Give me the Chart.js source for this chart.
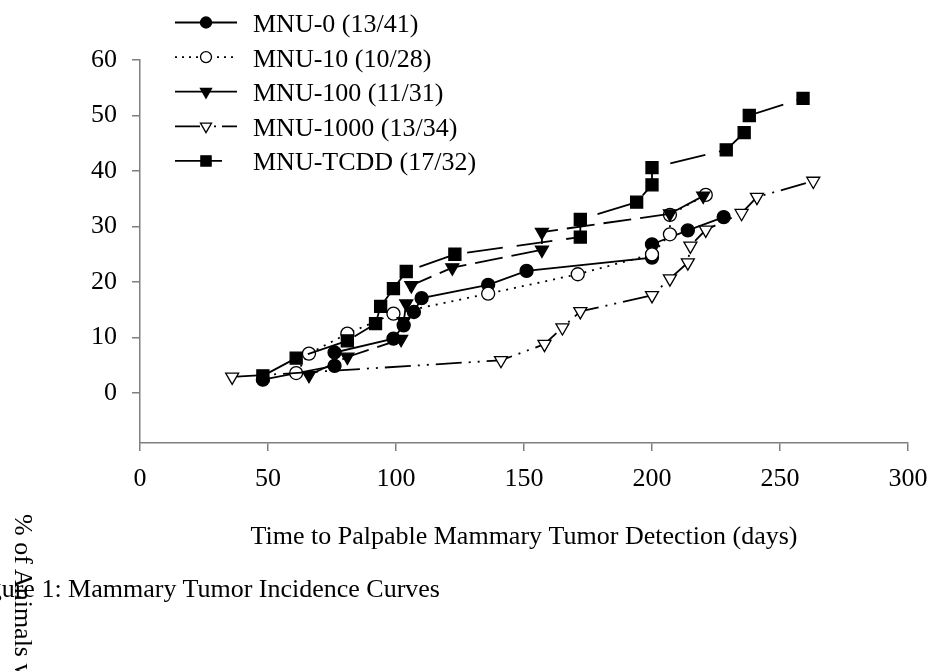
<!DOCTYPE html>
<html>
<head>
<meta charset="utf-8">
<script src="https://cdn.jsdelivr.net/npm/chart.js@4.4.1/dist/chart.umd.min.js"></script>
<style>
  html, body { margin: 0; padding: 0; background: #fff; overflow: hidden; }
  #wrap { position: relative; width: 928px; height: 671px; overflow: hidden; }
  #wrap canvas { position: absolute; left: 0; top: 0; }
  .txt {
    position: absolute;
    font-family: "Liberation Serif", "Times New Roman", serif;
    font-size: 26px;
    line-height: 26px;
    white-space: nowrap;
    color: #000;
  }
  #caption { left: -33px; top: 576px; }
  #ytitle { left: 36px; top: 514px; transform-origin: 0 0; transform: rotate(90deg); }
</style>
</head>
<body>
<div id="wrap">
  <canvas id="tumorChart" width="928" height="671"></canvas>
  <div class="txt" id="ytitle">% of Animals with Tumors</div>
  <div class="txt" id="caption">Figure 1: Mammary Tumor Incidence Curves</div>
</div>
<script>
// series labels
const seriesNames = ["MNU-0 (13/41)", "MNU-10 (10/28)", "MNU-100 (11/31)", "MNU-1000 (13/34)", "MNU-TCDD (17/32)"]

// days to detection and cumulative % per group
const days0 = [48, 76, 76, 99, 103, 107, 110, 136, 151, 200, 200, 214, 228]
const pct0 = [2.4, 4.9, 7.3, 9.8, 12.2, 14.6, 17.1, 19.5, 22.0, 24.4, 26.8, 29.3, 31.7]

const days10 = [61, 66, 81, 99, 136, 171, 200, 207, 207, 221]
const pct10 = [3.6, 7.1, 10.7, 14.3, 17.9, 21.4, 25.0, 28.6, 32.1, 35.7]

const days100 = [66, 81, 102, 103, 104, 106, 122, 157, 157, 207, 220]
const pct100 = [3.2, 6.5, 9.7, 12.9, 16.1, 19.4, 22.6, 25.8, 29.0, 32.3, 35.5]

const days1000 = [36, 141, 158, 165, 172, 200, 207, 214, 215, 221, 235, 241, 263]
const pct1000 = [2.9, 5.9, 8.8, 11.8, 14.7, 17.6, 20.6, 23.5, 26.5, 29.4, 32.4, 35.3, 38.2]

const daysTcdd = [48, 61, 81, 92, 94, 99, 104, 123, 172, 172, 194, 200, 200, 229, 236, 238, 259]
const pctTcdd = [3.1, 6.3, 9.4, 12.5, 15.6, 18.8, 21.9, 25.0, 28.1, 31.3, 34.4, 37.5, 40.6, 43.8, 46.9, 50.0, 53.1]

const xTicks = [0, 50, 100, 150, 200, 250, 300]
const yTicks = [0, 10, 20, 30, 40, 50, 60]

const allDays = [days0, days10, days100, days1000, daysTcdd]
const allPct = [pct0, pct10, pct100, pct1000, pctTcdd]

// marker and line look per group
const looks = [
  { pointStyle: "circle", fill: "#000", radius: 6.5, rotation: 0, dash: [], legendDash: [] },
  { pointStyle: "circle", fill: "#fff", radius: 6.5, rotation: 0, dash: [2, 6], legendDash: [2, 5] },
  { pointStyle: "triangle", fill: "#000", radius: 7.5, rotation: 180, dash: [28, 9], legendDash: [] },
  { pointStyle: "triangle", fill: "#fff", radius: 7.5, rotation: 180, dash: [26, 7, 2, 7, 2, 7], legendDash: [25, 6, 2, 6, 2, 6] },
  { pointStyle: "rect", fill: "#000", radius: 8.5, rotation: 0, dash: [36, 14], legendDash: [47, 100] }
]

const serif = "Liberation Serif"

const datasets = seriesNames.map((name, i) => ({
  label: name,
  data: allDays[i].map((d, j) => ({ x: d, y: allPct[i][j] })),
  borderColor: "#000",
  borderWidth: 1.8,
  borderDash: looks[i].dash,
  tension: 0,
  fill: false,
  pointStyle: looks[i].pointStyle,
  pointRadius: looks[i].radius,
  pointRotation: looks[i].rotation,
  pointBackgroundColor: looks[i].fill,
  pointBorderColor: "#000",
  pointBorderWidth: 1.3,
  order: seriesNames.length - 1 - i
}))

const sideLegend = {
  id: "sideLegend",
  afterDraw(chart) {
    const ctx = chart.ctx
    seriesNames.forEach((name, i) => {
      const y = 22.5 + i * 34.6
      ctx.save()
      ctx.strokeStyle = "#000"
      ctx.lineWidth = 1.8
      ctx.setLineDash(looks[i].legendDash)
      ctx.beginPath()
      ctx.moveTo(175, y)
      ctx.lineTo(237, y)
      ctx.stroke()
      ctx.setLineDash([])
      ctx.fillStyle = looks[i].fill
      ctx.strokeStyle = "#000"
      ctx.lineWidth = 1.3
      Chart.helpers.drawPoint(ctx, {
        pointStyle: looks[i].pointStyle,
        radius: looks[i].radius * 0.85,
        rotation: looks[i].rotation,
        borderWidth: 1.3
      }, 206, y)
      ctx.fillStyle = "#000"
      ctx.font = "26px \"" + serif + "\""
      ctx.textAlign = "left"
      ctx.textBaseline = "alphabetic"
      ctx.fillText(name, 253, y + 9.5)
      ctx.restore()
    })
  }
}

const axisGrey = "#7f7f7f"

new Chart(document.getElementById("tumorChart"), {
  type: "line",
  data: { datasets: datasets },
  plugins: [sideLegend],
  options: {
    responsive: false,
    animation: false,
    devicePixelRatio: 1,
    layout: { padding: { left: 0, top: 60, right: 20, bottom: 118 } },
    plugins: {
      legend: { display: false },
      tooltip: { enabled: false }
    },
    scales: {
      x: {
        type: "linear",
        min: 0,
        max: 300,
        afterBuildTicks: scale => { scale.ticks = xTicks.map(v => ({ value: v })) },
        afterFit: scale => {
          scale.height = 110
          scale.paddingLeft = 0
          scale.paddingRight = 0
        },
        ticks: {
          color: "#000",
          font: { family: serif, size: 26 },
          padding: 13,
          maxRotation: 0,
          autoSkip: false
        },
        grid: { drawOnChartArea: false, tickLength: 8, color: axisGrey, lineWidth: 1.5 },
        border: { color: axisGrey, width: 1.5 },
        title: {
          display: true,
          text: "Time to Palpable Mammary Tumor Detection (days)",
          color: "#000",
          font: { family: serif, size: 26 },
          padding: { top: 0, bottom: 0 }
        }
      },
      y: {
        type: "linear",
        min: -9,
        max: 60,
        afterBuildTicks: scale => { scale.ticks = yTicks.map(v => ({ value: v })) },
        afterFit: scale => { scale.width = 140 },
        ticks: {
          color: "#000",
          font: { family: serif, size: 26 },
          padding: 15
        },
        grid: { drawOnChartArea: false, tickLength: 8, color: axisGrey, lineWidth: 1.5 },
        border: { color: axisGrey, width: 1.5 }
      }
    }
  }
})
</script>
</body>
</html>
